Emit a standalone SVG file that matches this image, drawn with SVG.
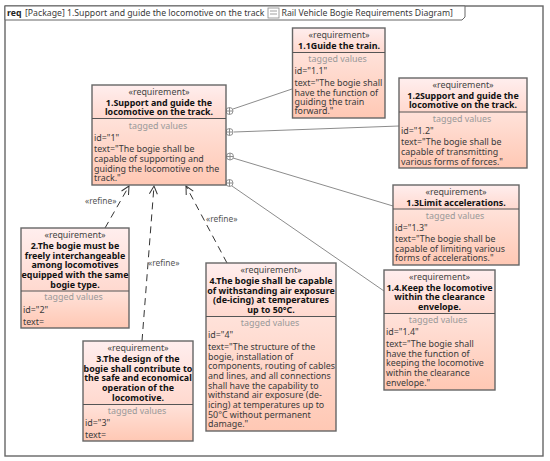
<svg xmlns="http://www.w3.org/2000/svg" width="550" height="461" viewBox="0 0 550 461">
<defs>
<linearGradient id="h" x1="0" y1="0" x2="0" y2="1"><stop offset="0" stop-color="#ffeeee"/><stop offset="1" stop-color="#ffd9cf"/></linearGradient>
<linearGradient id="b" x1="0" y1="0" x2="0" y2="1"><stop offset="0" stop-color="#ffe2da"/><stop offset="1" stop-color="#ffc8b4"/></linearGradient>
<marker id="open" markerWidth="12" markerHeight="12" refX="10" refY="5" orient="auto" markerUnits="userSpaceOnUse"><path d="M2 1L10 5L2 9" fill="none" stroke="#333" stroke-width="1"/></marker>
</defs>
<style>
text{font-family:"Noto Sans","Open Sans","Liberation Sans",sans-serif;font-size:8.9px;fill:#3a3a3a}
.c{text-anchor:middle}
.t{font-weight:700;fill:#111}
.g{fill:#999}
.s{fill:#444}
.hd{font-size:8.7px}
.box{fill:none;stroke:#666;stroke-width:1.4}
.d{stroke:#555;stroke-width:1}
.frame{fill:#fff;stroke:#666;stroke-width:1.4}
.conn{stroke:#8c8c8c;stroke-width:1;fill:none}
.ref{stroke:#333;stroke-width:1;fill:none;stroke-dasharray:7 5;marker-end:url(#open)}
.circ{fill:#fff;stroke:#777;stroke-width:.8}
.lab{fill:#555;font-size:8.4px}
</style>
<rect width="550" height="461" fill="#fff"/>
<g id="frame">
<rect class="frame" x="5" y="6" width="538" height="450"/>
<path d="M5 6H465V17L462 20H5Z" fill="#fff" stroke="#666" stroke-width="1"/>
<text class="hd" x="7" y="16" style="font-weight:700;fill:#222">req</text>
<text class="hd" x="25" y="16">[Package] 1.Support and guide the locomotive on the track</text>
<rect x="268" y="8" width="11" height="10" fill="#fff" stroke="#888" stroke-width=".8"/>
<path d="M270 11h7M270 14h7" stroke="#888" stroke-width=".8"/>
<text class="hd" x="281.500" y="16">Rail Vehicle Bogie Requirements Diagram]</text>
</g>
<g id="connectors">
<path class="conn" d="M233 109L292 89M234 132L399 126M233 158L393 206M232 186L384 291"/>
<circle class="circ" cx="229.500" cy="111" r="3.500"/><path class="conn" d="M226 111h7M229.500 107.500v7"/>
<circle class="circ" cx="229.500" cy="132" r="3.500"/><path class="conn" d="M226 132h7M229.500 128.500v7"/>
<circle class="circ" cx="230" cy="156.500" r="3.500"/><path class="conn" d="M226.500 156.500h7M230 153v7"/>
<circle class="circ" cx="229.500" cy="183" r="3.500"/><path class="conn" d="M226 183h7M229.500 179.500v7"/>
<path class="ref" d="M105 228L129 186"/>
<path class="ref" d="M142 341L154 186"/>
<path class="ref" d="M227 263L186 186"/>
<text class="lab" x="85" y="204">«refine»</text>
<text class="lab" x="148" y="266">«refine»</text>
<text class="lab" x="206" y="222">«refine»</text>
</g>
<g id="n1">
<rect x="92" y="85" width="134" height="33" fill="url(#h)"/><rect x="92" y="118" width="134" height="67" fill="url(#b)"/><rect class="box" x="92" y="85" width="134" height="100"/><path class="d" d="M92 118.500H226"/>
<text class="c s" x="159" y="95">«requirement»</text>
<text class="c t" x="159" y="106">1.Support and guide the</text>
<text class="c t" x="159" y="115">locomotive on the track.</text>
<text class="c g" x="158" y="128.500">tagged values</text>
<text x="94" y="141">id="1"</text>
<text x="94" y="152">text="The bogie shall be</text>
<text x="94" y="162">capable of supporting and</text>
<text x="94" y="171.500">guiding the locomotive on the</text>
<text x="94" y="181">track."</text>
</g>
<g id="n11">
<rect x="292.500" y="28" width="92.500" height="24" fill="url(#h)"/><rect x="292.500" y="52" width="92.500" height="66" fill="url(#b)"/><rect class="box" x="292.500" y="28" width="92.500" height="90"/><path class="d" d="M292.500 52.500H385"/>
<text class="c s" x="339" y="38">«requirement»</text>
<text class="c t" x="339" y="49">1.1Guide the train.</text>
<text class="c g" x="337.500" y="61.500">tagged values</text>
<text x="294.500" y="74">id="1.1"</text>
<text x="294.500" y="86">text="The bogie shall</text>
<text x="294.500" y="95.500">have the function of</text>
<text x="294.500" y="105">guiding the train</text>
<text x="294.500" y="114">forward."</text>
</g>
<g id="n12">
<rect x="399" y="78" width="128" height="34" fill="url(#h)"/><rect x="399" y="112" width="128" height="56" fill="url(#b)"/><rect class="box" x="399" y="78" width="128" height="90"/><path class="d" d="M399 112H527"/>
<text class="c s" x="463" y="88">«requirement»</text>
<text class="c t" x="463" y="99">1.2Support and guide the</text>
<text class="c t" x="463" y="108">locomotive on the track.</text>
<text class="c g" x="462" y="121.500">tagged values</text>
<text x="401" y="134">id="1.2"</text>
<text x="401" y="145">text="The bogie shall be</text>
<text x="401" y="155">capable of transmitting</text>
<text x="401" y="164.500">various forms of forces."</text>
</g>
<g id="n13">
<rect x="393" y="185" width="126" height="24" fill="url(#h)"/><rect x="393" y="209" width="126" height="56" fill="url(#b)"/><rect class="box" x="393" y="185" width="126" height="80"/><path class="d" d="M393 209H519"/>
<text class="c s" x="456" y="195">«requirement»</text>
<text class="c t" x="456" y="206">1.3Limit accelerations.</text>
<text class="c g" x="455" y="218.500">tagged values</text>
<text x="395" y="231">id="1.3"</text>
<text x="395" y="241.500">text="The bogie shall be</text>
<text x="395" y="251.500">capable of limiting various</text>
<text x="395" y="261">forms of accelerations."</text>
</g>
<g id="n14">
<rect x="384" y="270" width="111" height="43" fill="url(#h)"/><rect x="384" y="313" width="111" height="77" fill="url(#b)"/><rect class="box" x="384" y="270" width="111" height="120"/><path class="d" d="M384 313.500H495"/>
<text class="c s" x="439.500" y="280">«requirement»</text>
<text class="c t" x="439.500" y="290.500">1.4.Keep the locomotive</text>
<text class="c t" x="439.500" y="300">within the clearance</text>
<text class="c t" x="439.500" y="309.500">envelope.</text>
<text class="c g" x="438" y="322.500">tagged values</text>
<text x="386" y="335">id="1.4"</text>
<text x="386" y="347">text="The bogie shall</text>
<text x="386" y="356.500">have the function of</text>
<text x="386" y="366">keeping the locomotive</text>
<text x="386" y="376">within the clearance</text>
<text x="386" y="385.500">envelope."</text>
</g>
<g id="n2">
<rect x="21" y="228" width="108" height="63" fill="url(#h)"/><rect x="21" y="291" width="108" height="37" fill="url(#b)"/><rect class="box" x="21" y="228" width="108" height="100"/><path class="d" d="M21 291H129"/>
<text class="c s" x="75" y="238">«requirement»</text>
<text class="c t" x="75" y="248.500">2.The bogie must be</text>
<text class="c t" x="75" y="258.500">freely interchangeable</text>
<text class="c t" x="75" y="268">among locomotives</text>
<text class="c t" x="75" y="277.500">equipped with the same</text>
<text class="c t" x="75" y="287.500">bogie type.</text>
<text class="c g" x="73.500" y="300">tagged values</text>
<text x="23" y="312.500">id="2"</text>
<text x="23" y="325">text=</text>
</g>
<g id="n3">
<rect x="83" y="341" width="110" height="63" fill="url(#h)"/><rect x="83" y="404" width="110" height="37" fill="url(#b)"/><rect class="box" x="83" y="341" width="110" height="100"/><path class="d" d="M83 404.500H193"/>
<text class="c s" x="138" y="351">«requirement»</text>
<text class="c t" x="138" y="362">3.The design of the</text>
<text class="c t" x="138" y="371.500">bogie shall contribute to</text>
<text class="c t" x="138" y="381">the safe and economical</text>
<text class="c t" x="138" y="391">operation of the</text>
<text class="c t" x="138" y="400.500">locomotive.</text>
<text class="c g" x="137" y="414">tagged values</text>
<text x="85" y="426">id="3"</text>
<text x="85" y="438">text=</text>
</g>
<g id="n4">
<rect x="206" y="263" width="130" height="53" fill="url(#h)"/><rect x="206" y="316" width="130" height="115" fill="url(#b)"/><rect class="box" x="206" y="263" width="130" height="168"/><path class="d" d="M206 316.500H336"/>
<text class="c s" x="271" y="273">«requirement»</text>
<text class="c t" x="271" y="283.500">4.The bogie shall be capable</text>
<text class="c t" x="271" y="293.500">of withstanding air exposure</text>
<text class="c t" x="271" y="303">(de-icing) at temperatures</text>
<text class="c t" x="271" y="312.500">up to 50°C.</text>
<text class="c g" x="270" y="325.500">tagged values</text>
<text x="208" y="338">id="4"</text>
<text x="208" y="350">text="The structure of the</text>
<text x="208" y="359.500">bogie, installation of</text>
<text x="208" y="369">components, routing of cables</text>
<text x="208" y="378.500">and lines, and all connections</text>
<text x="208" y="388.500">shall have the capability to</text>
<text x="208" y="398">withstand air exposure (de-</text>
<text x="208" y="408">icing) at temperatures up to</text>
<text x="208" y="417.500">50°C without permanent</text>
<text x="208" y="427">damage."</text>
</g>
</svg>
